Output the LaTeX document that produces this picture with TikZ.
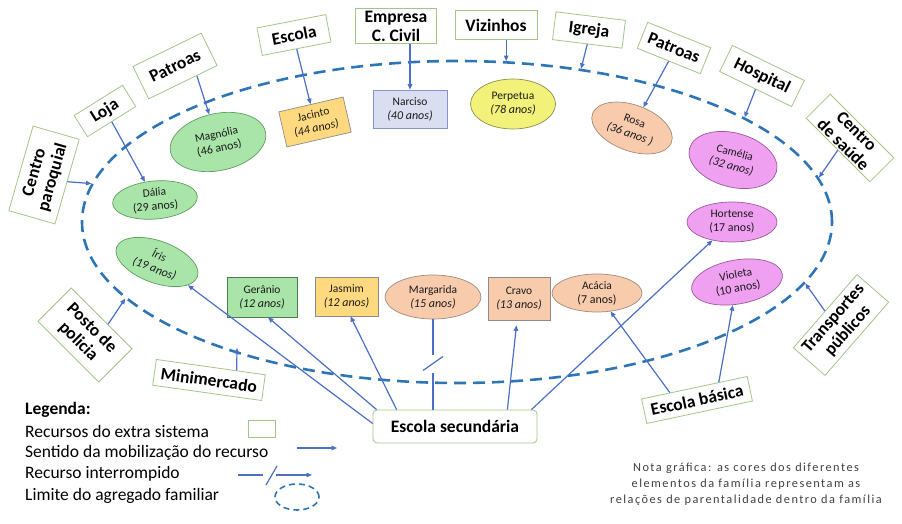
\documentclass[tikz,border=0pt]{standalone}
\usepackage{fontspec}
\setmainfont{Carlito}
\newfontfamily\notafont[LetterSpace=12]{Carlito}
\usetikzlibrary{shapes.geometric,arrows.meta,calc}
\definecolor{resdraw}{HTML}{A2C68A}
\definecolor{arrc}{HTML}{4A6FC5}
\definecolor{limc}{HTML}{2E75B6}
\definecolor{gfill}{HTML}{A9E4A9}
\definecolor{gdraw}{HTML}{5E9E5E}
\definecolor{yfill}{HTML}{FFD97F}
\definecolor{ydraw}{HTML}{8C8C8C}
\definecolor{bfill}{HTML}{D9DEF0}
\definecolor{bdraw}{HTML}{8497C8}
\definecolor{pyfill}{HTML}{F2F27A}
\definecolor{pydraw}{HTML}{8C8C50}
\definecolor{pfill}{HTML}{F8CBAD}
\definecolor{pdraw}{HTML}{A08A7A}
\definecolor{mfill}{HTML}{F0A0F0}
\definecolor{mdraw}{HTML}{9A5A9A}
\definecolor{txt}{HTML}{1A1A1A}
\definecolor{notac}{HTML}{404040}
\newcommand\idadeI[1]{{\fontsize{12}{14}\selectfont\itshape #1}}
\newcommand\idadeN[1]{{\fontsize{12}{14}\selectfont #1}}
\tikzset{
  res/.style={draw=resdraw, fill=white, line width=0.8pt, text=black,
    font=\bfseries\fontsize{17.5}{19}\selectfont, align=center, inner sep=1pt},
  mem/.style={inner sep=0pt, align=center, text=txt,
    font=\fontsize{11.5}{14}\selectfont, line width=0.7pt},
  oval/.style={mem, ellipse},
  rbox/.style={mem, rectangle},
  arr/.style={draw=arrc, line width=1.2pt, -{Triangle[length=5.5pt,width=4.5pt]}},
  link/.style={draw=arrc, line width=1.2pt},
  limite/.style={draw=limc, line width=2.6pt, dash pattern=on 12pt off 7pt},
  leg/.style={anchor=west, inner sep=0pt, font=\fontsize{17.5}{19}\selectfont},
}
\begin{document}
\begin{tikzpicture}[x=1pt,y=-1pt]
\useasboundingbox (0,0) rectangle (902,524);

% family limit
\node[limite, ellipse, minimum width=750pt, minimum height=322pt, inner sep=0pt] (lim) at (457,222) {};

% outer resources
\node[res, rotate=74, minimum width=88pt, minimum height=48pt, inner sep=0pt] (cp) at (44,175) {Centro\\paroquial};
\node[res, rotate=32, minimum width=57pt, minimum height=25pt] (loja) at (105,111) {Loja};
\node[res, rotate=26, minimum width=76pt, minimum height=36pt] (patL) at (175,66) {Patroas};
\node[res, rotate=11, minimum width=70pt, minimum height=28pt] (esc) at (294,35) {Escola};
\node[res, minimum width=81pt, minimum height=35pt, inner sep=0pt] (emp) at (396,26) {Empresa\\C. Civil};
\node[res, minimum width=82pt, minimum height=29pt] (viz) at (496,25) {Vizinhos};
\node[res, rotate=-7, minimum width=70pt, minimum height=28pt] (igr) at (589,30) {Igreja};
\node[res, rotate=-22, minimum width=68pt, minimum height=28pt] (patR) at (674,48) {Patroas};
\node[res, rotate=-26, minimum width=80pt, minimum height=29pt] (hosp) at (762,76) {Hospital};
\node[res, rotate=-45, minimum width=90pt, minimum height=34pt, inner sep=0pt] (cds) at (850,138) {Centro\\de saúde};
\node[res, rotate=49, minimum width=97pt, minimum height=42pt, inner sep=0pt] (tp) at (841,325) {Transportes\\públicos};
\node[res, rotate=12, minimum width=108pt, minimum height=25pt] (eb) at (697,400) {Escola básica};
\node[res, rounded corners=4pt, minimum width=164pt, minimum height=33pt] (es) at (455,426.5) {Escola secundária};
\node[res, rotate=-8, minimum width=110pt, minimum height=26pt] (mm) at (209,380) {Minimercado};
\node[res, rotate=-45, minimum width=86pt, minimum height=47pt, inner sep=0pt] (pp) at (85,335) {Posto de\\policia};

% family members
\node[oval, fill=gfill, draw=gdraw, rotate=12, minimum width=97pt, minimum height=57pt] (mag) at (218,142) {Magnólia\\\idadeN{(46 anos)}};
\node[oval, fill=gfill, draw=gdraw, rotate=5, minimum width=85pt, minimum height=38pt] (dal) at (155,200) {Dália\\\idadeN{(29 anos)}};
\node[oval, fill=gfill, draw=gdraw, rotate=-20, minimum width=86pt, minimum height=42pt] (iri) at (157,262) {\itshape Íris\\\idadeI{(19 anos)}};
\node[rbox, fill=yfill, draw=ydraw, rotate=13, minimum width=66pt, minimum height=36pt] (jac) at (315,122) {Jacinto\\\idadeI{(44 anos)}};
\node[rbox, fill=bfill, draw=bdraw, minimum width=74pt, minimum height=38pt] (nar) at (410,109) {Narciso\\\idadeI{(40 anos)}};
\node[oval, fill=pyfill, draw=pydraw, minimum width=85pt, minimum height=50pt] (per) at (513,104) {Perpetua\\\idadeI{(78 anos)}};
\node[oval, fill=pfill, draw=pdraw, rotate=-20, minimum width=84pt, minimum height=46pt] (ros) at (632,128) {Rosa\\\idadeI{(36 anos )}};
\node[oval, fill=mfill, draw=mdraw, rotate=-15, minimum width=90pt, minimum height=54pt] (cam) at (733,160) {Camélia\\\idadeI{(32 anos)}};
\node[oval, fill=mfill, draw=mdraw, minimum width=90pt, minimum height=40pt] (hor) at (732,222) {Hortense\\\idadeN{(17 anos)}};
\node[oval, fill=mfill, draw=mdraw, rotate=10, minimum width=92pt, minimum height=44pt] (vio) at (737,282) {Violeta\\\idadeN{(10 anos)}};
\node[oval, fill=pfill, draw=pdraw, minimum width=90pt, minimum height=38pt] (aca) at (597,293) {Acácia\\\idadeN{(7 anos)}};
\node[rbox, fill=pfill, draw=ydraw, minimum width=62pt, minimum height=43pt] (cra) at (519,298.5) {Cravo\\\idadeI{(13 anos)}};
\node[oval, fill=pfill, draw=pdraw, minimum width=96pt, minimum height=44pt] (mar) at (433,297) {Margarida\\\idadeI{(15 anos)}};
\node[rbox, fill=yfill, draw=ydraw, minimum width=63pt, minimum height=39pt] (jas) at (346.5,296.5) {Jasmim\\\idadeI{(12 anos)}};
\node[rbox, fill=gfill, draw=gdraw!80!black, minimum width=70pt, minimum height=40pt] (ger) at (262,297) {Gerânio\\\idadeI{(12 anos)}};

% arrows from outside resources
\draw[arr] (cp.south) -- (lim.174);
\draw[arr] (loja.south) -- (dal);
\draw[arr] ($(patL.south)!0.4!(patL.south east)$) -- (mag);
\draw[arr] (esc.south) -- (jac);
\draw[arr] (emp.south -| nar.north) -- (nar.north);
\draw[arr] (lim.73.5 |- viz.south) -- (lim.73.5);
\draw[arr] (igr.south) -- (lim.51);
\draw[arr] (patR.south) -- (ros);
\draw[arr] (hosp.south) -- (lim.20.4);
\draw[arr] (cds.south) -- (lim.7.75);
\draw[arr] (tp.north) -- (lim.350.1);
\draw[arr] ($(eb.north west)!0.27!(eb.north east)$) -- (aca);
\draw[arr] ($(eb.north west)!0.73!(eb.north east)$) -- (vio);
\draw[arr] ($(pp.north)!0.2!(pp.north east)$) -- (lim.193.3);
\coordinate (mmEnd) at (237,348);
\draw[arr] ($(mm.north)!0.47!(mm.north east)$) -- (mmEnd);

% arrows from Escola secundaria
\draw[arr] ($(es.west)+(0,-3)$) -- (iri);
\draw[arr] ($(es.north west)+(4,0)$) -- ($(ger.south)+(6,0)$);
\draw[arr] ($(es.north west)+(24,0)$) -- ($(jas.south)+(4,0)$);
\draw[arr, shorten >=5pt] ($(es.north east)+(-30,0)$) -- ($(cra.south)+(-2,0)$);
\draw[arr] ($(es.north east)+(-6,0)$) -- (hor);
% interrupted resource
\coordinate (gapc) at ($(mar.south)!0.5!(es.north -| mar.south)$);
\draw[link] (es.north -| mar.south) -- ($(gapc)+(0,9)$);
\draw[link] (mar.south) -- ($(gapc)+(0,-9)$);
\draw[link] ($(gapc)+(-10,6)$) -- ($(gapc)+(10,-8)$);

% legend
\node[leg, font=\bfseries\fontsize{17.5}{19}\selectfont] (lg0) at (25,410) {Legenda:};
\node[leg] (lg1) at (25,431) {Recursos do extra sistema};
\node[leg] (lg2) at (25,453) {Sentido da mobilização do recurso};
\node[leg] (lg3) at (25,474) {Recurso interrompido};
\node[leg] (lg4) at (25,496) {Limite do agregado familiar};
\node[draw=resdraw, line width=1pt, minimum width=27pt, minimum height=17pt, inner sep=0pt] (lgbox) at (261.5,428.5) {};
\coordinate (la1) at (297,448);
\coordinate (la2) at (337,448);
\draw[arr] (la1) -- (la2);
\coordinate (lb1) at (238,475);
\coordinate (lb2) at (263,475);
\coordinate (lb3) at (276,475);
\coordinate (lb4) at (312,475);
\draw[link] (lb1) -- (lb2);
\draw[arr] (lb3) -- (lb4);
\coordinate (ls1) at (266,485);
\coordinate (ls2) at (277,466);
\draw[link] (ls1) -- (ls2);
\node[ellipse, draw=limc, line width=1.6pt, dash pattern=on 6pt off 4pt, minimum width=44pt, minimum height=26pt, inner sep=0pt] (lgell) at (297,497) {};

% note
\node[align=center, text=notac, inner sep=0pt, font=\notafont\fontsize{12.3}{16}\selectfont] (nota) at (746,484) {Nota gráfica: as cores dos diferentes\\elementos da família representam as\\relações de parentalidade dentro da família};
\end{tikzpicture}
\end{document}
